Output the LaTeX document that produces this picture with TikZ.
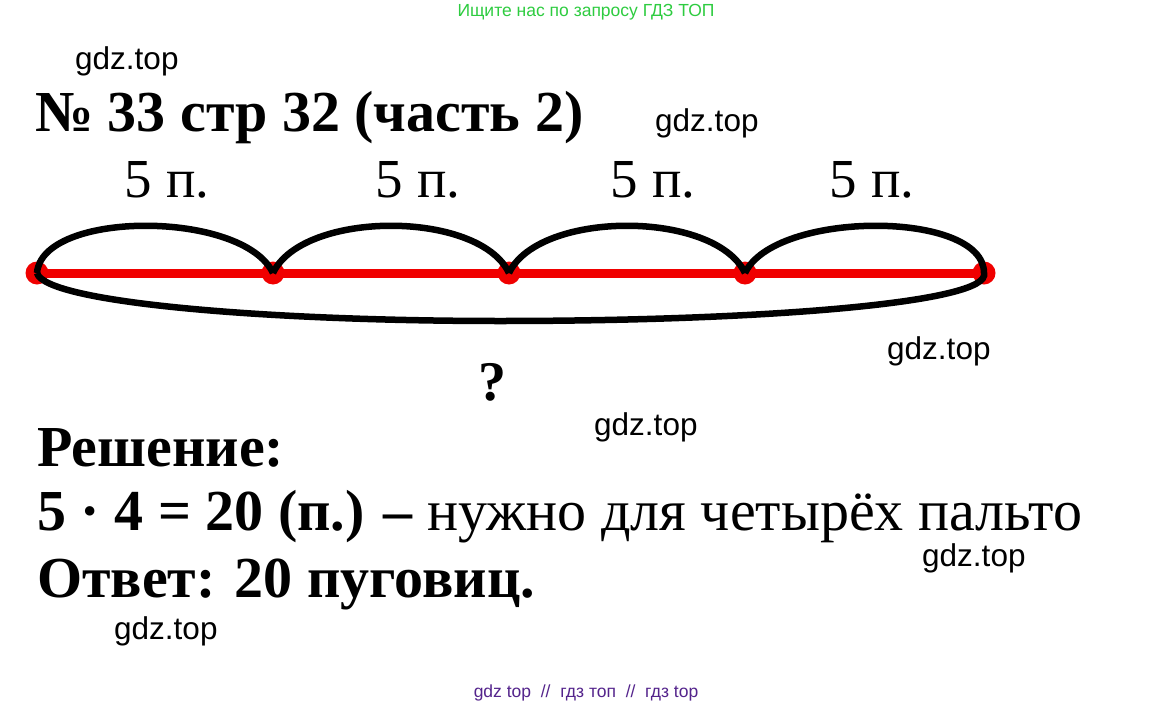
\documentclass[tikz,border=0pt]{standalone}
\usepackage{fontspec}
\setmainfont{Liberation Serif}
\newfontfamily\wmfont{Liberation Sans}
\definecolor{wmgreen}{RGB}{46,204,64}
\definecolor{wmpurple}{RGB}{84,36,140}
\definecolor{segred}{RGB}{240,0,0}
\tikzset{
    gdzmark/.style={anchor=base west, inner sep=0pt, font=\wmfont\fontsize{31.5}{32}\selectfont},
    bigbold/.style={anchor=base west, inner sep=0pt, font=\fontsize{58}{60}\selectfont\bfseries},
    seglabel/.style={anchor=base, inner sep=0pt, font=\fontsize{55}{56}\selectfont},
    arcline/.style={line width=6.5pt, black},
}
\begin{document}
\begin{tikzpicture}[x=1pt,y=-1pt]
        \useasboundingbox (0,0) rectangle (1172,709);
        \fill[white] (0,0) rectangle (1172,709);

        % top and bottom notes
        \node[font=\wmfont\fontsize{17.5}{17}\selectfont, text=wmgreen] (search) at (586,12) {Ищите нас по запросу ГДЗ ТОП};
        \node[font=\wmfont\fontsize{17.5}{17}\selectfont, text=wmpurple] (footer) at (586,693) {gdz top \ // \ гдз топ \ // \ гдз top};

        % title
        \node[bigbold] (title) at (35,131) {№ 33 стр 32 (часть 2)};

        % points on the segment
        \coordinate (p0) at (37,273);
        \coordinate (p1) at (273,273);
        \coordinate (p2) at (509,273);
        \coordinate (p3) at (745,273);
        \coordinate (p4) at (984,273);
        \coordinate (low) at (500,321);

        \draw[segred, line width=9pt] (p0) -- (p4);
        \fill[segred] (p0) circle (11.5);
        \fill[segred] (p1) circle (11.5);
        \fill[segred] (p2) circle (11.5);
        \fill[segred] (p3) circle (11.5);
        \fill[segred] (p4) circle (11.5);

        % arcs above
        \draw[arcline] (p0) .. controls +(5,-63) and +(-30,-63) .. (p1);
        \draw[arcline] (p1) .. controls +(30,-63) and +(-30,-63) .. (p2);
        \draw[arcline] (p2) .. controls +(30,-63) and +(-30,-63) .. (p3);
        \draw[arcline] (p3) .. controls +(30,-63) and +(0,-63) .. (p4);

        % whole length below
        \draw[arcline] (p0) .. controls +(8,30) and +(-230,0) .. (low)
                            .. controls +(260,0) and +(8,30) .. (p4);

        \node[seglabel] (l1) at (167,197) {5 п.};
        \node[seglabel] (l2) at (418,197) {5 п.};
        \node[seglabel] (l3) at (653,197) {5 п.};
        \node[seglabel] (l4) at (872,197) {5 п.};
        \node[seglabel, font=\fontsize{56}{56}\selectfont\bfseries] (whole) at (492,400) {?};

        % solution
        \node[bigbold] (sol) at (37,466) {Решение:};
        \node[bigbold] (calc) at (37,530) {5 · 4 = 20 (п.) – \mdseries нужно для четырёх пальто};
        \node[bigbold] (answer) at (37,597) {Ответ: 20 пуговиц.};

        % marks
        \node[gdzmark] (m1) at (75,70) {gdz.top};
        \node[gdzmark] (m2) at (655,131) {gdz.top};
        \node[gdzmark] (m3) at (887,359) {gdz.top};
        \node[gdzmark] (m4) at (594,435) {gdz.top};
        \node[gdzmark] (m5) at (922,566) {gdz.top};
        \node[gdzmark] (m6) at (114,639) {gdz.top};
\end{tikzpicture}
\end{document}
